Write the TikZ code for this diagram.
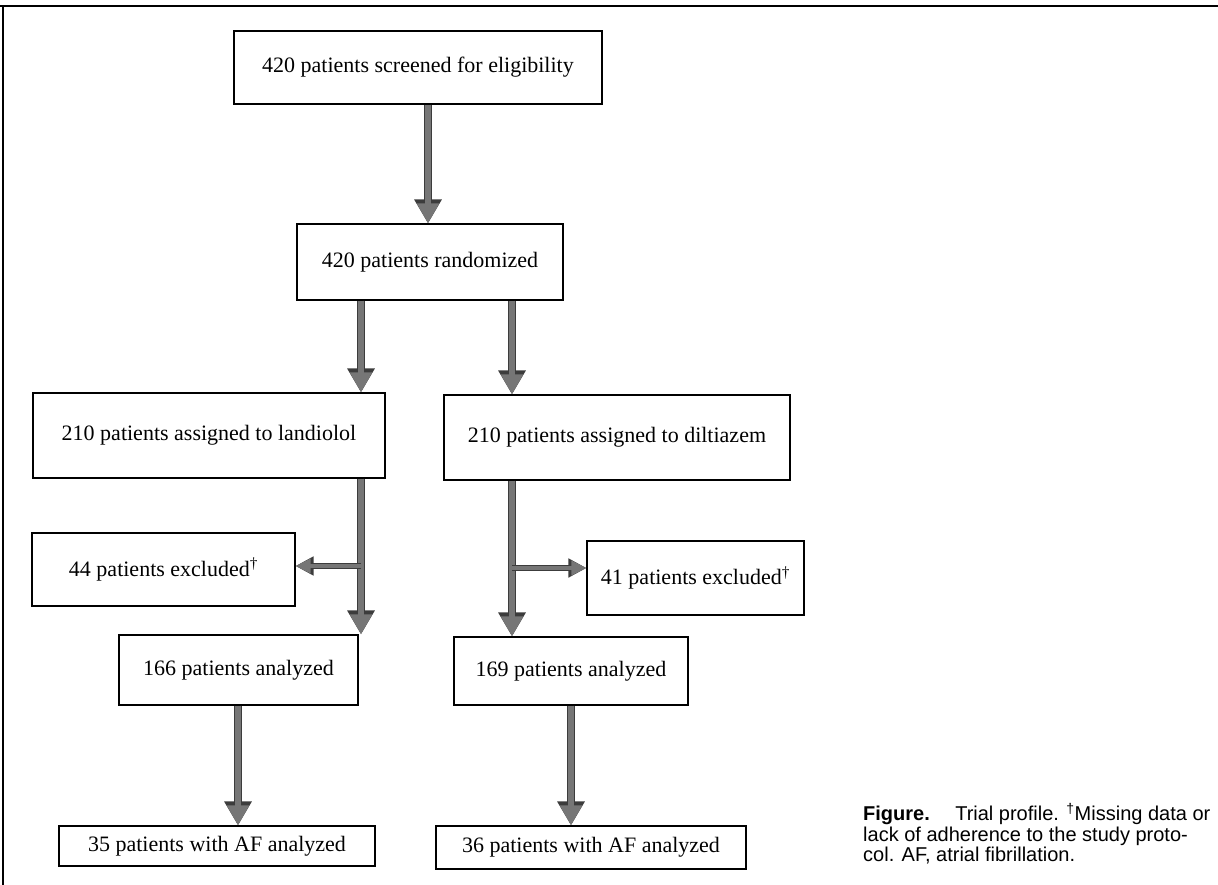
\documentclass[tikz,border=0pt]{standalone}
\usepackage{fontspec}
\setmainfont{Liberation Serif}
\newfontfamily\capfont{Liberation Sans}
\usetikzlibrary{arrows.meta}
\definecolor{arrowgray}{HTML}{767676}
\definecolor{arrowedge}{HTML}{3C3C3C}
\begin{document}
\begin{tikzpicture}[x=1pt,y=-1pt,
  flowbox/.style={draw=black, line width=1.1pt, rectangle, inner sep=0pt, align=center,
    font=\fontsize{22}{26}\selectfont},
  fat/.style={preaction={draw=arrowedge, line width=8.5pt, -{Triangle[width=26pt,length=24pt]}},
    draw=arrowgray, line width=6pt, -{Triangle[width=21pt,length=20pt]}},
  branch/.style={preaction={draw=arrowedge, line width=5.5pt, -{Triangle[width=18pt,length=18pt]}},
    draw=arrowgray, line width=3.5pt, -{Triangle[width=14pt,length=15pt]}},
  framerule/.style={draw=black, line width=2pt}
]
\useasboundingbox (0,0) rectangle (1218,885);
\draw[framerule] (0,6) -- (1218,6);
\draw[framerule] (3,6) -- (3,885);

\node[flowbox, minimum width=368pt, minimum height=73pt] (b1) at (418,67.5) {420 patients screened for eligibility};
\node[flowbox, minimum width=266pt, minimum height=76pt] (b2) at (430,262) {420 patients randomized};
\node[flowbox, minimum width=352pt, minimum height=85pt] (b3L) at (209,435.5) {210 patients assigned to landiolol};
\node[flowbox, minimum width=346pt, minimum height=85pt] (b3R) at (617,437.5) {210 patients assigned to diltiazem};
\node[flowbox, minimum width=263pt, minimum height=73pt] (exL) at (163.5,569.5) {44 patients excluded\textsuperscript{†}};
\node[flowbox, minimum width=217pt, minimum height=74pt] (exR) at (695.5,578) {41 patients excluded\textsuperscript{†}};
\node[flowbox, minimum width=239pt, minimum height=70pt] (anL) at (238.5,670) {166 patients analyzed};
\node[flowbox, minimum width=234pt, minimum height=68pt] (anR) at (571,671) {169 patients analyzed};
\node[flowbox, minimum width=316pt, minimum height=40pt] (afL) at (217,846) {35 patients with AF analyzed};
\node[flowbox, minimum width=310pt, minimum height=43pt] (afR) at (591,847.5) {36 patients with AF analyzed};

\node[anchor=north west, inner sep=0pt, align=left, font=\capfont\fontsize{20}{20.5}\selectfont] (cap) at (863,803)
  {{\bfseries Figure.}\hspace{0.9em} Trial profile. \textsuperscript{†}Missing data or\\
   lack of adherence to the study proto-\\
   col. AF, atrial fibrillation.};

\coordinate (a1x) at (428,0);
\coordinate (sL) at (361,0);
\coordinate (sR) at (512,0);
\coordinate (cL) at (238,0);
\coordinate (cR) at (571,0);
\coordinate (brL) at (361,566);
\coordinate (brR) at (512,568);

\draw[fat] (b1.south -| a1x) -- (b2.north -| a1x);
\draw[fat] (b2.south -| sL) -- (b3L.north -| sL);
\draw[fat] (b2.south -| sR) -- (b3R.north -| sR);
\draw[fat] (b3L.south -| sL) -- (anL.north -| sL);
\draw[fat] (b3R.south -| sR) -- (anR.north -| sR);
\draw[branch] (brL) -- (brL -| exL.east);
\draw[branch] (brR) -- (brR -| exR.west);
\draw[fat] (anL.south -| cL) -- (afL.north -| cL);
\draw[fat] (anR.south -| cR) -- (afR.north -| cR);
\end{tikzpicture}
\end{document}
